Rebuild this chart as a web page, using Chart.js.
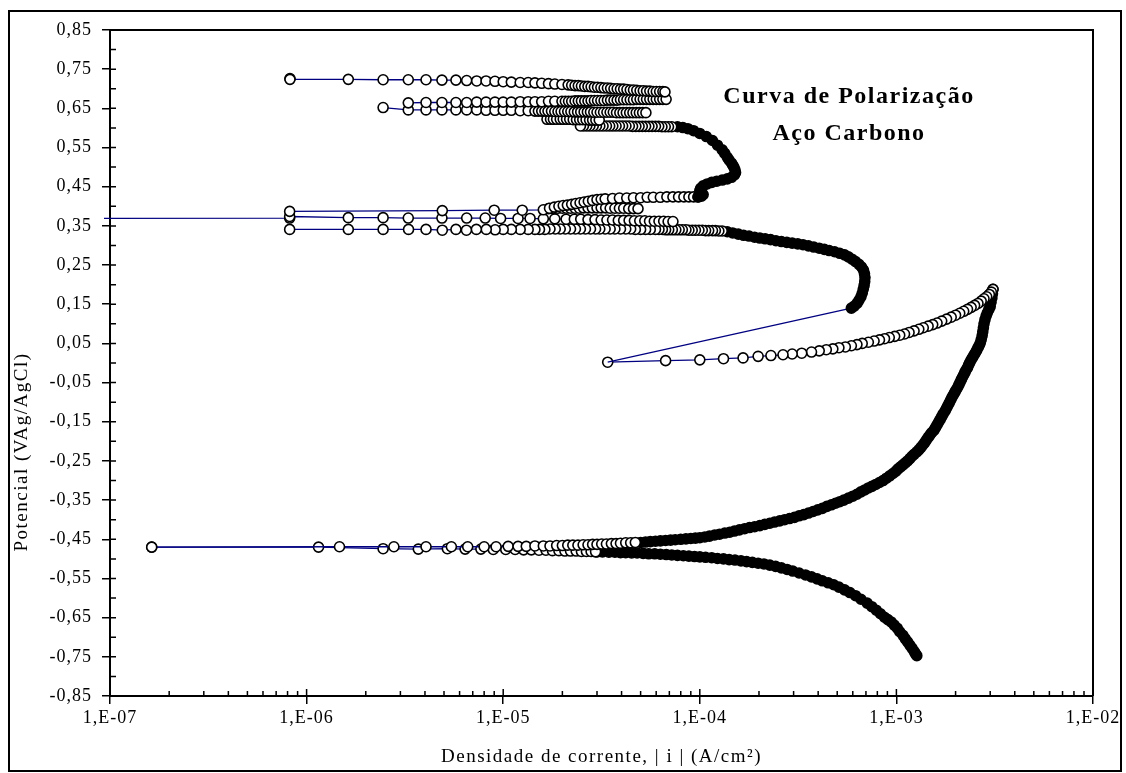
<!DOCTYPE html>
<html lang="pt">
<head>
<meta charset="UTF-8">
<title>Curva de Polarização - Aço Carbono</title>
<script src="https://cdn.jsdelivr.net/npm/chart.js"></script>
<style>
  body { margin: 0; background: #fff; }
  canvas { display: block; }
</style>
</head>
<body>
<canvas id="curva" width="1126" height="773"></canvas>
<script>
// eixos
const xTicks = [1e-7, 1e-6, 1e-5, 1e-4, 1e-3, 1e-2];
const xTickLabels = ['1,E-07', '1,E-06', '1,E-05', '1,E-04', '1,E-03', '1,E-02'];
const xMinorMult = [2, 3, 4, 5, 6, 7, 8, 9];
const yTicks = [-0.85, -0.75, -0.65, -0.55, -0.45, -0.35, -0.25, -0.15, -0.05, 0.05, 0.15, 0.25, 0.35, 0.45, 0.55, 0.65, 0.75, 0.85];
const yMinorTicks = [-0.8, -0.7, -0.6, -0.5, -0.4, -0.3, -0.2, -0.1, 0, 0.1, 0.2, 0.3, 0.4, 0.5, 0.6, 0.7, 0.8];

// dados [|i| (A/cm²), E (V)]
const ecorrBaixo = [[1.63e-7,-0.470],[1.15e-6,-0.470],[2.45e-6,-0.474],[3.7e-6,-0.475],[5.2e-6,-0.474],[6.4e-6,-0.475],[7.7e-6,-0.475],[8.9e-6,-0.476],[1.03e-5,-0.476],[1.15e-5,-0.476],[1.27e-5,-0.477],[1.39e-5,-0.477],[1.52e-5,-0.478],[1.65e-5,-0.478],[1.78e-5,-0.479],[1.92e-5,-0.479],[2.06e-5,-0.480],[2.2e-5,-0.480],[2.35e-5,-0.480],[2.5e-5,-0.481],[2.65e-5,-0.481],[2.8e-5,-0.481],[2.95e-5,-0.482]];

const catodicaDensa = [[3.0e-5,-0.482],[3.2e-5,-0.482],[3.45e-5,-0.483],[3.7e-5,-0.483],[3.95e-5,-0.484],[4.2e-5,-0.484],[4.5e-5,-0.485],[4.8e-5,-0.485],[5.15e-5,-0.486],[5.5e-5,-0.487],[5.9e-5,-0.487],[6.3e-5,-0.488],[6.75e-5,-0.489],[7.2e-5,-0.490],[7.7e-5,-0.491],[8.25e-5,-0.492],[8.8e-5,-0.493],[9.4e-5,-0.494],[1.0e-4,-0.495],[1.07e-4,-0.496],[1.15e-4,-0.497],[1.23e-4,-0.499],[1.32e-4,-0.500],[1.41e-4,-0.502],[1.51e-4,-0.503],[1.62e-4,-0.505],[1.73e-4,-0.507],[1.85e-4,-0.509],[1.98e-4,-0.511],[2.12e-4,-0.513],[2.27e-4,-0.516],[2.43e-4,-0.519],[2.6e-4,-0.523],[2.78e-4,-0.527],[2.97e-4,-0.531],[3.2e-4,-0.536],[3.45e-4,-0.541],[3.7e-4,-0.546],[3.95e-4,-0.551],[4.2e-4,-0.556],[4.5e-4,-0.561],[4.8e-4,-0.566],[5.1e-4,-0.572],[5.45e-4,-0.579],[5.8e-4,-0.586],[6.2e-4,-0.594],[6.6e-4,-0.603],[7.1e-4,-0.613],[7.5e-4,-0.622],[7.9e-4,-0.631],[8.3e-4,-0.640],[8.7e-4,-0.649],[9.05e-4,-0.655],[9.4e-4,-0.661],[9.75e-4,-0.669],[1.01e-3,-0.677],[1.04e-3,-0.686],[1.08e-3,-0.695],[1.11e-3,-0.704],[1.14e-3,-0.712],[1.17e-3,-0.720],[1.2e-3,-0.728],[1.23e-3,-0.736],[1.25e-3,-0.742],[1.27e-3,-0.747]];

const ecorrAlto = [[1.63e-7,-0.470],[1.47e-6,-0.469],[2.78e-6,-0.469],[4.05e-6,-0.469],[5.45e-6,-0.469],[6.6e-6,-0.469],[8.0e-6,-0.469],[9.2e-6,-0.469],[1.06e-5,-0.468],[1.19e-5,-0.468],[1.31e-5,-0.468],[1.45e-5,-0.467],[1.6e-5,-0.467],[1.73e-5,-0.467],[1.87e-5,-0.466],[2.0e-5,-0.466],[2.13e-5,-0.465],[2.26e-5,-0.465],[2.4e-5,-0.465],[2.55e-5,-0.464],[2.7e-5,-0.464],[2.85e-5,-0.463],[3.0e-5,-0.463],[3.17e-5,-0.462],[3.35e-5,-0.462],[3.55e-5,-0.461],[3.75e-5,-0.461],[3.95e-5,-0.460],[4.2e-5,-0.459],[4.45e-5,-0.459],[4.7e-5,-0.458]];

const anodicaDensa = [[5.0e-5,-0.458],[5.3e-5,-0.457],[5.6e-5,-0.456],[5.95e-5,-0.455],[6.3e-5,-0.454],[6.7e-5,-0.453],[7.1e-5,-0.452],[7.5e-5,-0.451],[8.0e-5,-0.450],[8.5e-5,-0.449],[9.0e-5,-0.448],[9.5e-5,-0.447],[1.0e-4,-0.446],[1.06e-4,-0.444],[1.12e-4,-0.442],[1.19e-4,-0.439],[1.26e-4,-0.437],[1.34e-4,-0.434],[1.42e-4,-0.432],[1.5e-4,-0.429],[1.59e-4,-0.426],[1.69e-4,-0.423],[1.79e-4,-0.420],[1.9e-4,-0.418],[2.02e-4,-0.415],[2.14e-4,-0.412],[2.27e-4,-0.409],[2.4e-4,-0.406],[2.55e-4,-0.403],[2.7e-4,-0.400],[2.86e-4,-0.397],[3.03e-4,-0.394],[3.2e-4,-0.390],[3.38e-4,-0.387],[3.57e-4,-0.383],[3.77e-4,-0.379],[3.98e-4,-0.375],[4.2e-4,-0.371],[4.43e-4,-0.366],[4.67e-4,-0.362],[4.9e-4,-0.358],[5.15e-4,-0.354],[5.4e-4,-0.350],[5.7e-4,-0.345],[6.0e-4,-0.340],[6.3e-4,-0.335],[6.6e-4,-0.329],[6.9e-4,-0.324],[7.2e-4,-0.319],[7.5e-4,-0.315],[7.85e-4,-0.310],[8.2e-4,-0.305],[8.55e-4,-0.300],[8.9e-4,-0.294],[9.25e-4,-0.288],[9.6e-4,-0.282],[9.95e-4,-0.276],[1.02e-3,-0.270],[1.05e-3,-0.265],[1.08e-3,-0.260],[1.11e-3,-0.255],[1.14e-3,-0.250],[1.17e-3,-0.244],[1.2e-3,-0.238],[1.23e-3,-0.233],[1.27e-3,-0.227],[1.3e-3,-0.222],[1.33e-3,-0.216],[1.36e-3,-0.210],[1.39e-3,-0.204],[1.42e-3,-0.197],[1.45e-3,-0.190],[1.48e-3,-0.184],[1.51e-3,-0.178],[1.55e-3,-0.172],[1.58e-3,-0.165],[1.61e-3,-0.158],[1.64e-3,-0.151],[1.67e-3,-0.144],[1.7e-3,-0.137],[1.73e-3,-0.130],[1.77e-3,-0.122],[1.8e-3,-0.115],[1.83e-3,-0.108],[1.86e-3,-0.101],[1.89e-3,-0.094],[1.92e-3,-0.087],[1.95e-3,-0.081],[1.98e-3,-0.075],[2.01e-3,-0.069],[2.05e-3,-0.062],[2.08e-3,-0.055],[2.11e-3,-0.049],[2.14e-3,-0.042],[2.17e-3,-0.036],[2.2e-3,-0.030],[2.23e-3,-0.024],[2.26e-3,-0.018],[2.3e-3,-0.012],[2.33e-3,-0.005],[2.36e-3,0.001],[2.4e-3,0.008],[2.44e-3,0.014],[2.48e-3,0.020],[2.52e-3,0.026],[2.56e-3,0.032],[2.6e-3,0.039],[2.64e-3,0.045],[2.67e-3,0.051],[2.7e-3,0.060],[2.73e-3,0.070],[2.75e-3,0.080],[2.77e-3,0.090],[2.79e-3,0.100],[2.82e-3,0.110],[2.86e-3,0.120],[2.9e-3,0.128],[2.95e-3,0.136],[3.0e-3,0.144],[3.03e-3,0.155],[3.06e-3,0.166],[3.08e-3,0.177],[3.1e-3,0.188]];

const retorno = [[3.1e-3,0.188],[3.04e-3,0.181],[2.97e-3,0.175],[2.88e-3,0.169],[2.79e-3,0.164],[2.7e-3,0.158],[2.6e-3,0.152],[2.5e-3,0.147],[2.4e-3,0.142],[2.3e-3,0.137],[2.2e-3,0.132],[2.1e-3,0.127],[2.0e-3,0.122],[1.9e-3,0.117],[1.8e-3,0.112],[1.7e-3,0.107],[1.61e-3,0.102],[1.53e-3,0.098],[1.45e-3,0.094],[1.37e-3,0.090],[1.3e-3,0.086],[1.23e-3,0.082],[1.16e-3,0.078],[1.1e-3,0.074],[1.04e-3,0.071],[9.8e-4,0.068],[9.2e-4,0.065],[8.7e-4,0.062],[8.2e-4,0.059],[7.7e-4,0.056],[7.2e-4,0.053],[6.7e-4,0.050],[6.3e-4,0.047],[5.9e-4,0.044],[5.5e-4,0.041],[5.1e-4,0.039],[4.75e-4,0.036],[4.4e-4,0.034],[4.05e-4,0.031],[3.7e-4,0.028],[3.3e-4,0.025],[2.95e-4,0.023],[2.65e-4,0.021],[2.3e-4,0.019],[1.98e-4,0.017],[1.66e-4,0.013],[1.32e-4,0.011],[1.0e-4,0.008],[6.7e-5,0.006],[3.4e-5,0.002]];

const salto = [[3.4e-5,0.002],[5.9e-4,0.140]];

const sInferior = [[5.9e-4,0.140],[6.1e-4,0.145],[6.3e-4,0.152],[6.45e-4,0.160],[6.6e-4,0.169],[6.7e-4,0.178],[6.78e-4,0.188],[6.85e-4,0.198],[6.9e-4,0.208],[6.92e-4,0.218],[6.88e-4,0.228],[6.8e-4,0.237],[6.65e-4,0.245],[6.45e-4,0.252],[6.2e-4,0.259],[5.95e-4,0.265],[5.7e-4,0.271],[5.45e-4,0.276],[5.15e-4,0.280],[4.85e-4,0.284],[4.55e-4,0.287],[4.3e-4,0.290],[4.05e-4,0.293],[3.8e-4,0.296],[3.57e-4,0.299],[3.35e-4,0.302],[3.15e-4,0.304],[2.95e-4,0.306],[2.77e-4,0.308],[2.6e-4,0.310],[2.44e-4,0.312],[2.29e-4,0.315],[2.15e-4,0.317],[2.02e-4,0.319],[1.9e-4,0.321],[1.78e-4,0.324],[1.67e-4,0.326],[1.57e-4,0.329],[1.47e-4,0.332],[1.38e-4,0.335]];

const linha034 = [[1.3e-4,0.337],[1.25e-4,0.337],[1.2e-4,0.338],[1.16e-4,0.338],[1.11e-4,0.338],[1.07e-4,0.338],[1.03e-4,0.339],[9.9e-5,0.339],[9.5e-5,0.339],[9.15e-5,0.339],[8.8e-5,0.339],[8.5e-5,0.340],[8.15e-5,0.340],[7.85e-5,0.340],[7.55e-5,0.340],[7.25e-5,0.340],[6.95e-5,0.340],[6.7e-5,0.340],[6.45e-5,0.341],[6.2e-5,0.341],[5.95e-5,0.341],[5.6e-5,0.341],[5.3e-5,0.341],[5.0e-5,0.341],[4.7e-5,0.341],[4.45e-5,0.342],[4.2e-5,0.342],[3.95e-5,0.342],[3.7e-5,0.342],[3.5e-5,0.342],[3.3e-5,0.342],[3.1e-5,0.342],[2.95e-5,0.342],[2.78e-5,0.342],[2.62e-5,0.342],[2.47e-5,0.342],[2.33e-5,0.342],[2.2e-5,0.342],[2.07e-5,0.342],[1.95e-5,0.342],[1.84e-5,0.342],[1.73e-5,0.342],[1.63e-5,0.341],[1.53e-5,0.341],[1.45e-5,0.341],[1.34e-5,0.341],[1.22e-5,0.341],[1.1e-5,0.341],[1.0e-5,0.341],[9.1e-6,0.340],[8.2e-6,0.341],[7.3e-6,0.341],[6.5e-6,0.339],[5.75e-6,0.341],[4.9e-6,0.339],[4.05e-6,0.341],[3.3e-6,0.341],[2.45e-6,0.341],[1.63e-6,0.341],[8.2e-7,0.341]];

const linha037 = [[5e-8,0.369],[8.2e-7,0.370],[8.2e-7,0.374],[1.63e-6,0.371],[2.45e-6,0.371],[3.29e-6,0.370],[4.88e-6,0.370],[6.52e-6,0.370],[8.1e-6,0.370],[9.7e-6,0.369],[1.19e-5,0.369],[1.37e-5,0.369],[1.6e-5,0.368],[1.83e-5,0.368],[2.09e-5,0.367],[2.3e-5,0.367],[2.48e-5,0.367],[2.7e-5,0.366],[2.93e-5,0.366],[3.15e-5,0.365],[3.37e-5,0.365],[3.6e-5,0.365],[3.85e-5,0.364],[4.1e-5,0.364],[4.37e-5,0.364],[4.65e-5,0.363],[4.95e-5,0.363],[5.25e-5,0.363],[5.55e-5,0.362],[5.87e-5,0.362],[6.2e-5,0.362],[6.55e-5,0.362],[6.9e-5,0.361],[7.3e-5,0.361]];

const linha039 = [[8.2e-7,0.387],[4.9e-6,0.389],[9.0e-6,0.390],[1.25e-5,0.390],[1.6e-5,0.391],[1.72e-5,0.395],[1.82e-5,0.398],[1.92e-5,0.400],[2.02e-5,0.402],[2.12e-5,0.403],[2.23e-5,0.405],[2.34e-5,0.407],[2.46e-5,0.409],[2.58e-5,0.411],[2.71e-5,0.413],[2.85e-5,0.415],[3.0e-5,0.417],[3.15e-5,0.418],[3.3e-5,0.419],[3.6e-5,0.420],[3.9e-5,0.421],[4.25e-5,0.421],[4.6e-5,0.422],[5.0e-5,0.422],[5.4e-5,0.423],[5.8e-5,0.423],[6.3e-5,0.423],[6.8e-5,0.424],[7.3e-5,0.424],[7.8e-5,0.424],[8.3e-5,0.424],[8.8e-5,0.424],[9.3e-5,0.424],[9.8e-5,0.424]];

const linha0395 = [[1.7e-5,0.394],[1.8e-5,0.394],[1.9e-5,0.395],[2.0e-5,0.395],[2.1e-5,0.395],[2.2e-5,0.395],[2.32e-5,0.395],[2.44e-5,0.395],[2.56e-5,0.396],[2.7e-5,0.396],[2.84e-5,0.396],[3.0e-5,0.396],[3.15e-5,0.396],[3.32e-5,0.396],[3.5e-5,0.395],[3.7e-5,0.395],[3.9e-5,0.395],[4.1e-5,0.395],[4.35e-5,0.394],[4.6e-5,0.394],[4.85e-5,0.394]];

const sSuperior = [[9.8e-5,0.424],[1.02e-4,0.426],[1.04e-4,0.430],[1.02e-4,0.435],[1.0e-4,0.440],[1.01e-4,0.446],[1.04e-4,0.452],[1.09e-4,0.457],[1.15e-4,0.461],[1.22e-4,0.464],[1.3e-4,0.467],[1.38e-4,0.470],[1.45e-4,0.474],[1.5e-4,0.480],[1.52e-4,0.486],[1.51e-4,0.493],[1.49e-4,0.500],[1.47e-4,0.505],[1.45e-4,0.510],[1.41e-4,0.518],[1.38e-4,0.525],[1.34e-4,0.535],[1.3e-4,0.544],[1.23e-4,0.556],[1.16e-4,0.568],[1.08e-4,0.578],[1.0e-4,0.586],[9.3e-5,0.593],[8.7e-5,0.598],[8.2e-5,0.601],[7.7e-5,0.603]];

const linha060 = [[7.2e-5,0.603],[6.93e-5,0.603],[6.67e-5,0.603],[6.42e-5,0.603],[6.18e-5,0.604],[5.95e-5,0.604],[5.72e-5,0.604],[5.51e-5,0.604],[5.3e-5,0.604],[5.1e-5,0.604],[4.91e-5,0.604],[4.73e-5,0.604],[4.55e-5,0.604],[4.38e-5,0.605],[4.21e-5,0.605],[4.05e-5,0.605],[3.9e-5,0.605],[3.75e-5,0.605],[3.61e-5,0.605],[3.48e-5,0.605],[3.35e-5,0.605],[3.22e-5,0.605],[3.1e-5,0.605],[2.98e-5,0.605],[2.87e-5,0.605],[2.76e-5,0.605],[2.66e-5,0.605],[2.56e-5,0.605],[2.47e-5,0.605]];

const linha062 = [[1.67e-5,0.622],[1.74e-5,0.622],[1.8e-5,0.622],[1.87e-5,0.622],[1.95e-5,0.622],[2.02e-5,0.622],[2.1e-5,0.622],[2.18e-5,0.622],[2.27e-5,0.621],[2.36e-5,0.621],[2.45e-5,0.621],[2.54e-5,0.621],[2.64e-5,0.621],[2.75e-5,0.620],[2.85e-5,0.620],[2.96e-5,0.620],[3.08e-5,0.620]];

const linha064 = [[2.45e-6,0.652],[3.29e-6,0.646],[4.05e-6,0.646],[4.88e-6,0.646],[5.75e-6,0.646],[6.52e-6,0.646],[7.33e-6,0.646],[8.18e-6,0.645],[9.08e-6,0.645],[1.0e-5,0.645],[1.1e-5,0.645],[1.22e-5,0.644],[1.34e-5,0.644],[1.45e-5,0.643],[1.51e-5,0.643],[1.57e-5,0.643],[1.63e-5,0.643],[1.69e-5,0.643],[1.76e-5,0.643],[1.83e-5,0.642],[1.9e-5,0.642],[1.97e-5,0.642],[2.05e-5,0.642],[2.13e-5,0.642],[2.21e-5,0.642],[2.3e-5,0.641],[2.39e-5,0.641],[2.48e-5,0.641],[2.58e-5,0.641],[2.68e-5,0.641],[2.78e-5,0.641],[2.89e-5,0.640],[3.0e-5,0.640],[3.12e-5,0.640],[3.24e-5,0.640],[3.37e-5,0.640],[3.5e-5,0.640],[3.63e-5,0.640],[3.77e-5,0.639],[3.92e-5,0.639],[4.07e-5,0.639],[4.23e-5,0.639],[4.4e-5,0.639],[4.57e-5,0.639],[4.75e-5,0.639],[4.93e-5,0.639],[5.12e-5,0.639],[5.32e-5,0.639]];

const linha066 = [[3.29e-6,0.664],[4.05e-6,0.665],[4.88e-6,0.665],[5.75e-6,0.665],[6.52e-6,0.665],[7.33e-6,0.666],[8.18e-6,0.666],[9.08e-6,0.666],[1.0e-5,0.666],[1.1e-5,0.666],[1.22e-5,0.667],[1.34e-5,0.667],[1.45e-5,0.667],[1.57e-5,0.667],[1.7e-5,0.668],[1.83e-5,0.668],[1.99e-5,0.668],[2.07e-5,0.668],[2.15e-5,0.668],[2.23e-5,0.668],[2.32e-5,0.669],[2.41e-5,0.669],[2.5e-5,0.669],[2.6e-5,0.669],[2.7e-5,0.669],[2.8e-5,0.670],[2.91e-5,0.670],[3.02e-5,0.670],[3.14e-5,0.670],[3.26e-5,0.670],[3.39e-5,0.671],[3.52e-5,0.671],[3.66e-5,0.671],[3.8e-5,0.671],[3.95e-5,0.672],[4.1e-5,0.672],[4.26e-5,0.672],[4.43e-5,0.672],[4.6e-5,0.672],[4.78e-5,0.673],[4.97e-5,0.673],[5.16e-5,0.673],[5.36e-5,0.673],[5.57e-5,0.673],[5.79e-5,0.673],[6.01e-5,0.673],[6.25e-5,0.673],[6.49e-5,0.673],[6.74e-5,0.673]];

const linha072 = [[8.23e-7,0.726],[8.23e-7,0.724],[1.63e-6,0.724],[2.45e-6,0.723],[3.29e-6,0.723],[4.05e-6,0.723],[4.88e-6,0.722],[5.75e-6,0.722],[6.52e-6,0.721],[7.33e-6,0.720],[8.18e-6,0.720],[9.08e-6,0.719],[1.0e-5,0.718],[1.1e-5,0.717],[1.22e-5,0.716],[1.34e-5,0.716],[1.45e-5,0.715],[1.57e-5,0.714],[1.7e-5,0.713],[1.83e-5,0.712],[1.99e-5,0.711],[2.14e-5,0.710],[2.23e-5,0.709],[2.32e-5,0.708],[2.41e-5,0.708],[2.5e-5,0.707],[2.6e-5,0.706],[2.7e-5,0.706],[2.8e-5,0.705],[2.91e-5,0.704],[3.02e-5,0.704],[3.14e-5,0.703],[3.26e-5,0.702],[3.39e-5,0.702],[3.52e-5,0.701],[3.66e-5,0.700],[3.8e-5,0.700],[3.95e-5,0.699],[4.1e-5,0.699],[4.26e-5,0.698],[4.43e-5,0.697],[4.6e-5,0.697],[4.78e-5,0.696],[4.97e-5,0.695],[5.16e-5,0.695],[5.36e-5,0.694],[5.57e-5,0.694],[5.79e-5,0.693],[6.01e-5,0.693],[6.25e-5,0.693],[6.49e-5,0.693],[6.65e-5,0.692]];

const fmtV = v => v.toFixed(2).replace('.', ',');

function serie(pontos, preenchimento, extra) {
    return Object.assign({
        data: pontos.map(p => ({ x: p[0], y: p[1] })),
        showLine: true,
        borderColor: '#000080',
        borderWidth: 1.3,
        pointRadius: 5,
        pointHoverRadius: 5,
        pointBorderWidth: 1.6,
        pointBorderColor: '#000',
        pointBackgroundColor: preenchimento
    }, extra || {});
}

// decoração: ticks internos, moldura, títulos
const decoracao = {
    id: 'decoracao',
    beforeLayout(chart) { chart.ctx.letterSpacing = '1px'; },
    beforeDraw(chart) {
        const ctx = chart.ctx;
        ctx.letterSpacing = '1px';
        ctx.save();
        ctx.fillStyle = '#fff';
        ctx.fillRect(0, 0, chart.width, chart.height);
        ctx.restore();
    },
    afterDraw(chart) {
        const { ctx, chartArea: a, scales: { x, y } } = chart;
        ctx.save();
        ctx.strokeStyle = '#000';
        ctx.lineWidth = 2;
        ctx.beginPath();
        ctx.moveTo(a.left, a.top);
        ctx.lineTo(a.right, a.top);
        ctx.lineTo(a.right, a.bottom);
        ctx.stroke();

        ctx.lineWidth = 1.5;
        ctx.beginPath();
        yTicks.concat(yMinorTicks).forEach(v => {
            const p = y.getPixelForValue(v);
            ctx.moveTo(a.left, p);
            ctx.lineTo(a.left + 6, p);
        });
        xTicks.forEach((d, i) => {
            const p = x.getPixelForValue(d);
            ctx.moveTo(p, a.bottom);
            ctx.lineTo(p, a.bottom - 7);
            if (i < xTicks.length - 1) {
                xMinorMult.forEach(m => {
                    const q = x.getPixelForValue(m * d);
                    ctx.moveTo(q, a.bottom);
                    ctx.lineTo(q, a.bottom - 5);
                });
            }
        });
        ctx.stroke();

        // moldura externa
        ctx.lineWidth = 2;
        ctx.strokeRect(9, 11, 1112, 760);

        ctx.fillStyle = '#000';
        ctx.textAlign = 'center';
        ctx.textBaseline = 'alphabetic';
        ctx.font = 'bold 24px "Liberation Serif"';
        ctx.letterSpacing = '1.5px';
        ctx.fillText('Curva de Polarização', 849, 103);
        ctx.fillText('Aço Carbono', 849, 140);

        ctx.font = '19px "Liberation Serif"';
        ctx.letterSpacing = '1.5px';
        ctx.fillText('Densidade de corrente, | i | (A/cm²)', (a.left + a.right) / 2, 762);

        ctx.translate(22, 452);
        ctx.rotate(-Math.PI / 2);
        ctx.textBaseline = 'middle';
        ctx.fillText('Potencial (VAg/AgCl)', 0, 0);
        ctx.restore();
    }
};

const fonteTicks = { family: "'Liberation Serif', serif", size: 18 };

new Chart(document.getElementById('curva').getContext('2d'), {
    type: 'scatter',
    data: {
        datasets: [
            serie(linha072, '#fff'),
            serie(linha066, '#fff'),
            serie(linha064, '#fff'),
            serie(linha062, '#fff'),
            serie(linha060, '#fff'),
            serie(sSuperior, '#000'),
            serie(linha039, '#fff'),
            serie(linha0395, '#fff'),
            serie(linha037, '#fff', { clip: { left: 6, top: 0, right: 0, bottom: 0 } }),
            serie(linha034, '#fff'),
            serie(sInferior, '#000'),
            serie(salto, '#fff', { pointRadius: 0, pointHoverRadius: 0 }),
            serie(retorno, '#fff'),
            serie(ecorrAlto, '#fff'),
            serie(ecorrBaixo, '#fff'),
            serie(anodicaDensa, '#000'),
            serie(catodicaDensa, '#000')
        ]
    },
    options: {
        responsive: false,
        animation: false,
        events: [],
        layout: { padding: { top: 30, right: 33, left: 0, bottom: 0 } },
        plugins: { legend: { display: false }, tooltip: { enabled: false } },
        scales: {
            x: {
                type: 'logarithmic',
                min: 1e-7,
                max: 1e-2,
                afterBuildTicks: s => { s.ticks = xTicks.map(v => ({ value: v })); },
                afterFit: s => { s.height = 77; },
                border: { display: true, color: '#000', width: 2 },
                grid: { display: true, drawOnChartArea: false, drawTicks: true, tickLength: 8, color: '#000', lineWidth: 1.5 },
                ticks: {
                    color: '#000',
                    font: fonteTicks,
                    padding: 3,
                    maxRotation: 0,
                    autoSkip: false,
                    callback: (v, i) => xTickLabels[i]
                }
            },
            y: {
                type: 'linear',
                min: -0.85,
                max: 0.85,
                afterBuildTicks: s => { s.ticks = yTicks.map(v => ({ value: v })); },
                afterFit: s => { s.width = 110; },
                border: { display: true, color: '#000', width: 2 },
                grid: { display: true, drawOnChartArea: false, drawTicks: true, tickLength: 8, color: '#000', lineWidth: 1.5 },
                ticks: {
                    color: '#000',
                    font: fonteTicks,
                    padding: 10,
                    autoSkip: false,
                    callback: v => fmtV(v)
                }
            }
        }
    },
    plugins: [decoracao]
});
</script>
</body>
</html>
